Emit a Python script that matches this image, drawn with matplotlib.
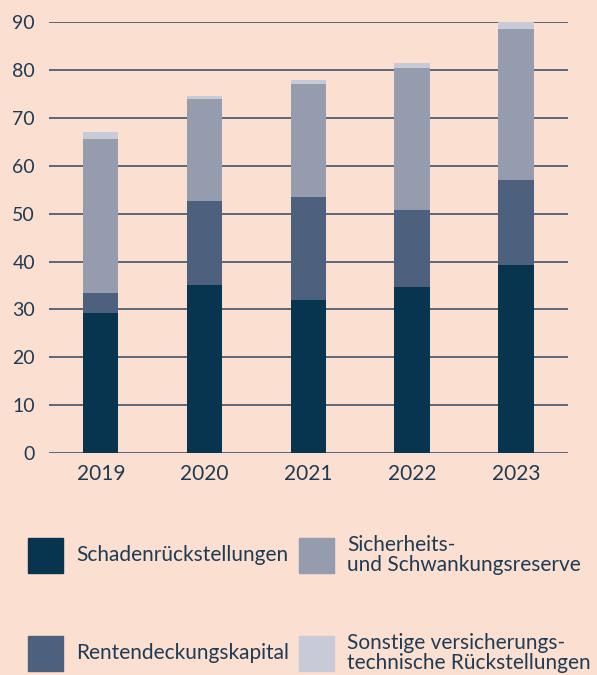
import matplotlib.pyplot as plt
from matplotlib.patches import Rectangle
import numpy as np

plt.rcParams['font.family'] = ['Lato', 'DejaVu Sans']

# Jahre
years = ['2019', '2020', '2021', '2022', '2023']

# Werte je Komponente
schaden = [29.2, 35.1, 31.9, 34.7, 39.2]
renten = [4.2, 17.5, 21.5, 16.0, 17.8]
sicherheit = [32.2, 21.3, 23.6, 29.7, 31.5]
sonstige = [1.4, 0.6, 0.9, 1.0, 1.7]

labels = ['Schadenrückstellungen', 'Rentendeckungskapital',
          'Sicherheits-\nund Schwankungsreserve',
          'Sonstige versicherungs-\ntechnische Rückstellungen']
colors = ['#07344f', '#4d607e', '#949cae', '#c8cad8']
bg = '#fbdfd0'
txt = '#1f3b54'

fig = plt.figure(figsize=(5.97, 6.75), dpi=100, facecolor=bg)
ax = fig.add_axes([0.082, 0.329, 0.869, 0.638], facecolor=bg)

x = np.arange(len(years))
bottom = np.zeros(len(years))
for vals, c in zip([schaden, renten, sicherheit, sonstige], colors):
    ax.bar(x, vals, width=0.34, bottom=bottom, color=c, zorder=3)
    bottom += np.array(vals)

ax.set_xlim(-0.5, 4.5)
ax.set_ylim(0, 90)
ax.set_yticks(range(0, 91, 10))
ax.set_xticks(x)
ax.set_xticklabels(years)
ax.yaxis.grid(True, color='#3f526a', linewidth=1.2, zorder=1)
for s in ax.spines.values():
    s.set_visible(False)
ax.tick_params(length=0, labelsize=14, labelcolor=txt)
ax.tick_params(axis='y', pad=10)
ax.tick_params(axis='x', pad=8, labelsize=15)

# Legende
pos = [(28, 555), (28, 653), (299, 555), (299, 653)]
for (px, py), lab, c in zip(pos, labels, colors):
    fig.add_artist(Rectangle((px / 597, 1 - (py + 17.5) / 675), 35 / 597, 35 / 675,
                             transform=fig.transFigure, color=c))
    fig.text((px + 48) / 597, 1 - py / 675, lab, color=txt, fontsize=15,
             va='center', ha='left', linespacing=0.95)

plt.savefig('out.png', dpi=100, facecolor=bg)
